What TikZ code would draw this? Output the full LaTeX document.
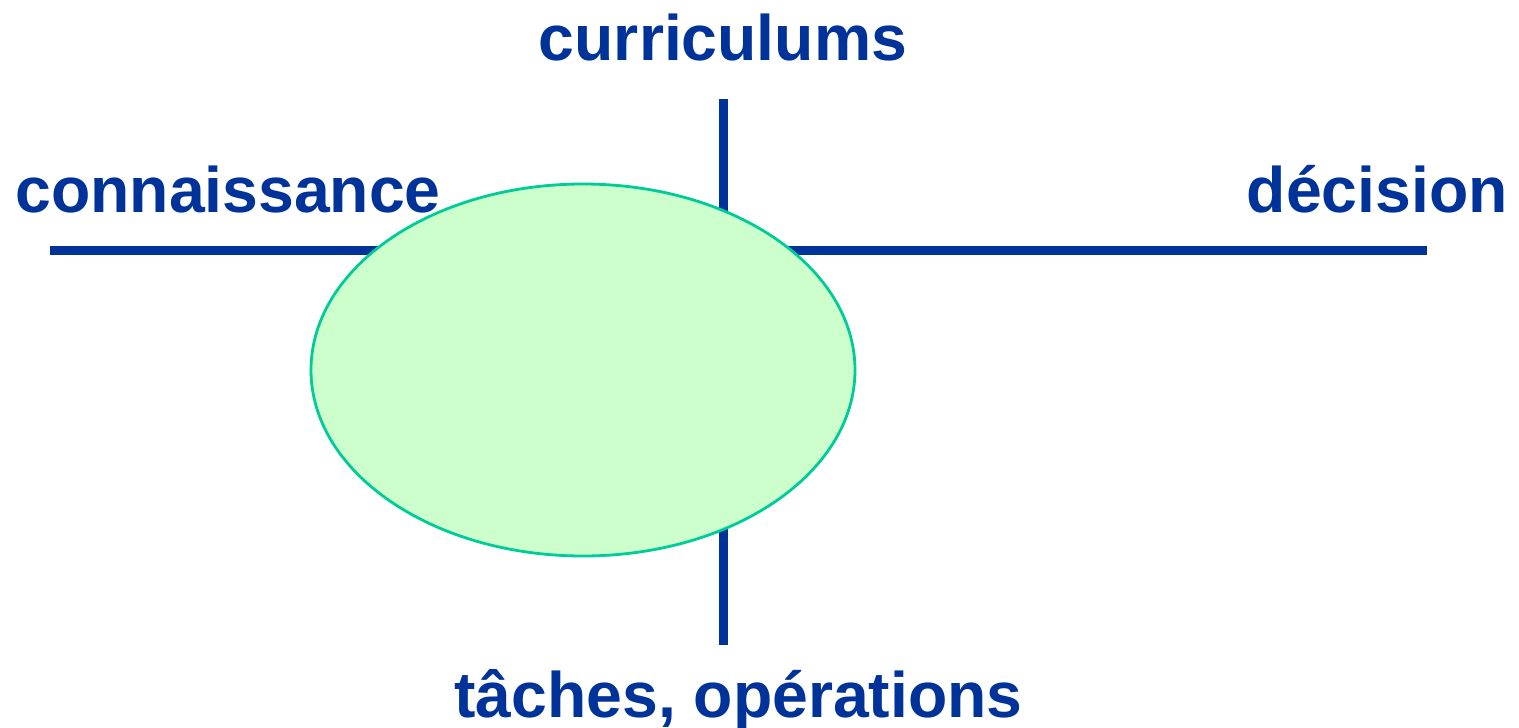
\documentclass[tikz,border=0pt]{standalone}
\usepackage{fontspec}
\setmainfont{Liberation Sans}
\usepackage{xcolor}
\usetikzlibrary{shapes.geometric, positioning}
\definecolor{bleuaxe}{HTML}{003399}
\definecolor{vertbord}{HTML}{00CC99}
\definecolor{vertfond}{HTML}{CCFFCC}

\begin{document}
\begin{tikzpicture}[
  axe/.style={draw=bleuaxe, line width=5.1pt},
  zone/.style={
    ellipse, draw=vertbord, fill=vertfond, line width=1.6pt,
    minimum width=10.88cm, minimum height=7.44cm, inner sep=0pt},
  lbl/.style={
    font=\fontsize{36.6}{44}\selectfont\bfseries, text=bleuaxe, inner sep=0pt}
]
\useasboundingbox (0,0) rectangle (30.38,-14.54);
% -- Axes --
\coordinate (gauche) at (1.00,-5.01);
\coordinate (droite) at (28.54,-5.01);
\coordinate (haut)   at (14.47,-1.98);
\coordinate (bas)    at (14.47,-12.90);
\draw[axe] (gauche) -- (droite);
\draw[axe] (haut) -- (bas);
% -- Zone --
\node[zone] (Z) at (11.66,-7.40) {};
% -- Labels --
\node[lbl, anchor=base]      (cur) at (14.46,-1.20)  {curriculums};
\node[lbl, anchor=base west] (con) at (0.30,-4.24)   {connaissance};
\node[lbl, anchor=base east] (dec) at (30.16,-4.24)  {décision};
\node[lbl, anchor=base]      (tac) at (14.77,-14.34) {tâches, opérations};
\end{tikzpicture}
\end{document}
